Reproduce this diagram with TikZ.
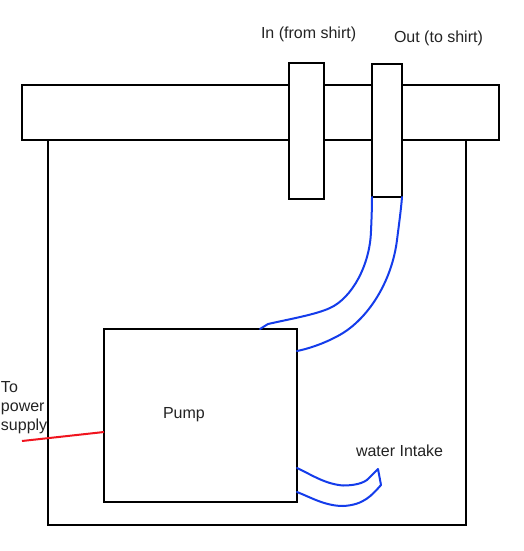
\documentclass[tikz,border=0pt]{standalone}
\usepackage{fontspec}
\setmainfont{Liberation Sans}
\tikzset{
  boxshape/.style={draw=black,line width=2pt,fill=white,inner sep=0pt,outer sep=0pt,minimum width=#1},
  boxshape/.default=10pt,
  hose/.style={draw=hoseblue,line width=2pt,line cap=round,line join=round},
  wire/.style={draw=wirered,line width=2pt},
  lbl/.style={inner sep=0pt,outer sep=0pt,text=labelgrey,font=\fontsize{16}{20}\selectfont}
}
\definecolor{hoseblue}{RGB}{20,60,235}
\definecolor{wirered}{RGB}{240,20,30}
\definecolor{labelgrey}{RGB}{35,35,35}
\newcommand{\rectnode}[5]{\node[boxshape=#4 pt,minimum height=#5 pt,anchor=north west] (#1) at (#2,#3) {};}
\begin{document}
\begin{tikzpicture}[x=1pt,y=-1pt]
\useasboundingbox (0,0) rectangle (524,551);
\rectnode{tank}{48}{140}{418}{385}
\rectnode{bar}{22}{85}{477}{55}
\rectnode{intube}{289}{63}{35}{136}
\rectnode{outtube}{372}{64}{30}{133}
\rectnode{pump}{104}{329}{193}{173}
\coordinate (hoseA) at (outtube.south west);
\coordinate (hoseB) at (outtube.south east);
\coordinate (pumpTop) at (260,329);
\coordinate (pumpSide) at (297,351);
\coordinate (intakeA) at (297,468);
\coordinate (intakeB) at (297,492);
\coordinate (wireEnd) at (22,441);
\coordinate (wireStart) at (104,432);
\path[hose] (hoseA) .. controls (372,208) and (371.5,220) .. (371,231)
  .. controls (370,265) and (352,298) .. (330,308)
  .. controls (316,314.5) and (290,319) .. (268,324) -- (pumpTop);
\path[hose] (hoseB) .. controls (401,210) and (398.5,228) .. (397,240)
  .. controls (392,280) and (370,316) .. (343,333)
  .. controls (330,341) and (312,348) .. (pumpSide);
\path[hose] (intakeA) .. controls (312,475) and (325,484) .. (343,485.5)
  .. controls (352,485.5) and (364,484) .. (369,478) -- (378,469) -- (381,485)
  .. controls (372,495) and (364,505) .. (343,506)
  .. controls (325,506) and (310,497) .. (intakeB);
\path[wire] (wireEnd) -- (wireStart);
\node[lbl,anchor=base west] (inlabel) at (261,39) {In (from shirt)};
\node[lbl,anchor=base west] (outlabel) at (394,43) {Out (to shirt)};
\node[lbl,anchor=base west] (pumplabel) at (163,418) {Pump};
\node[lbl,anchor=base west] (intakelabel) at (356,456) {water Intake};
\node[lbl,anchor=base west] (tolabel) at (1,392) {To};
\node[lbl,anchor=base west] (powerlabel) at (1,411) {power};
\node[lbl,anchor=base west] (supplylabel) at (1,430) {supply};
\end{tikzpicture}
\end{document}
